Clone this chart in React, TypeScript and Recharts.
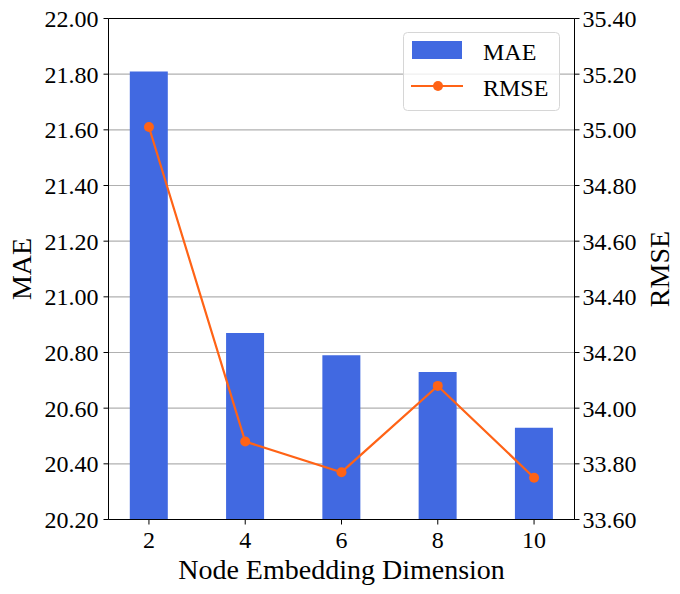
import React from 'react'
import {
  ComposedChart, Bar, Line, XAxis, YAxis, CartesianGrid,
  ReferenceLine, Legend,
} from 'recharts'

const dims = [2, 4, 6, 8, 10]
const maeValues = [21.81, 20.87, 20.79, 20.73, 20.53]
const rmseValues = [35.01, 33.88, 33.77, 34.08, 33.75]
const maeTicks = [20.2, 20.4, 20.6, 20.8, 21.0, 21.2, 21.4, 21.6, 21.8, 22.0]
const rmseTicks = [33.6, 33.8, 34.0, 34.2, 34.4, 34.6, 34.8, 35.0, 35.2, 35.4]

const data = dims.map((d, i) => ({ dim: d, mae: maeValues[i], rmse: rmseValues[i] }))

const FONT = "'Liberation Serif', 'Times New Roman', serif"
const BLUE = '#4169e1'
const ORANGE = '#ff6316'
const tickStyle = { fontSize: 24, fill: '#000', fontFamily: FONT }
const axisLine = { stroke: '#000', strokeWidth: 1 }
const tickLine = { stroke: '#000', strokeWidth: 1 }

function sideLabel(text: string, side: 'left' | 'right') {
  return (props: any) => {
    const vb = props.viewBox
    const cx = side === 'left' ? vb.x + 21 : vb.x + vb.width - 21
    const cy = vb.y + vb.height / 2
    return (
      <text
        x={cx}
        y={cy}
        transform={`rotate(-90 ${cx} ${cy})`}
        textAnchor="middle"
        dominantBaseline="central"
        fontSize={28}
        fontFamily={FONT}
        fill="#000"
      >
        {text}
      </text>
    )
  }
}

function LegendBox() {
  return (
    <svg width={157} height={79} style={{ display: 'block' }}>
      <rect x={0.5} y={0.5} width={156} height={78} rx={4} fill="rgba(255,255,255,0.8)" stroke="#d6d6d6" />
      <rect x={9} y={9} width={50} height={18} fill={BLUE} />
      <text x={80} y={20} dominantBaseline="central" fontSize={24} fontFamily={FONT} fill="#000">MAE</text>
      <line x1={8} y1={54} x2={60} y2={54} stroke={ORANGE} strokeWidth={2.2} />
      <circle cx={35} cy={54} r={5} fill={ORANGE} />
      <text x={80} y={56} dominantBaseline="central" fontSize={24} fontFamily={FONT} fill="#000">RMSE</text>
    </svg>
  )
}

export default function App() {
  return (
    <div style={{ position: 'absolute', left: 0, top: 0, background: '#fff', fontFamily: FONT }}>
      <ComposedChart
        width={680}
        height={594}
        data={data}
        margin={{ top: 18.5, right: 0, left: 0, bottom: 0 }}
      >
        <CartesianGrid yAxisId="left" vertical={false} stroke="#b0b0b0" strokeWidth={1.1} />
        <XAxis
          dataKey="dim"
          type="number"
          domain={[1.16, 10.84]}
          ticks={dims}
          allowDataOverflow
          height={74.5}
          tick={tickStyle}
          tickSize={5}
          tickMargin={6}
          axisLine={axisLine}
          tickLine={tickLine}
          label={{
            value: 'Node Embedding Dimension',
            position: 'insideBottom',
            offset: 15,
            style: { fontSize: 28, fontFamily: FONT, fill: '#000' },
          }}
        />
        <YAxis
          yAxisId="left"
          width={108.5}
          domain={[20.2, 22.0]}
          ticks={maeTicks}
          allowDataOverflow
          tick={tickStyle}
          tickSize={5}
          tickMargin={5}
          axisLine={axisLine}
          tickLine={tickLine}
          tickFormatter={(v: number) => v.toFixed(2)}
          label={{ content: sideLabel('MAE', 'left') }}
        />
        <YAxis
          yAxisId="right"
          orientation="right"
          width={105.5}
          domain={[33.6, 35.4]}
          ticks={rmseTicks}
          allowDataOverflow
          tick={tickStyle}
          tickSize={5}
          tickMargin={3}
          axisLine={axisLine}
          tickLine={tickLine}
          tickFormatter={(v: number) => v.toFixed(2)}
          label={{ content: sideLabel('RMSE', 'right') }}
        />
        <ReferenceLine yAxisId="left" y={22.0} stroke="#000" strokeWidth={1} />
        <Bar
          yAxisId="left"
          dataKey="mae"
          name="MAE"
          fill={BLUE}
          barSize={38}
          isAnimationActive={false}
        />
        <Line
          yAxisId="right"
          dataKey="rmse"
          name="RMSE"
          stroke={ORANGE}
          strokeWidth={2.2}
          dot={{ r: 5, fill: ORANGE, stroke: 'none' }}
          activeDot={false}
          isAnimationActive={false}
        />
        <Legend
          verticalAlign="middle"
          align="center"
          wrapperStyle={{ position: 'absolute', left: 403, top: 32, width: 157, height: 79 }}
          content={() => <LegendBox />}
        />
      </ComposedChart>
    </div>
  )
}
